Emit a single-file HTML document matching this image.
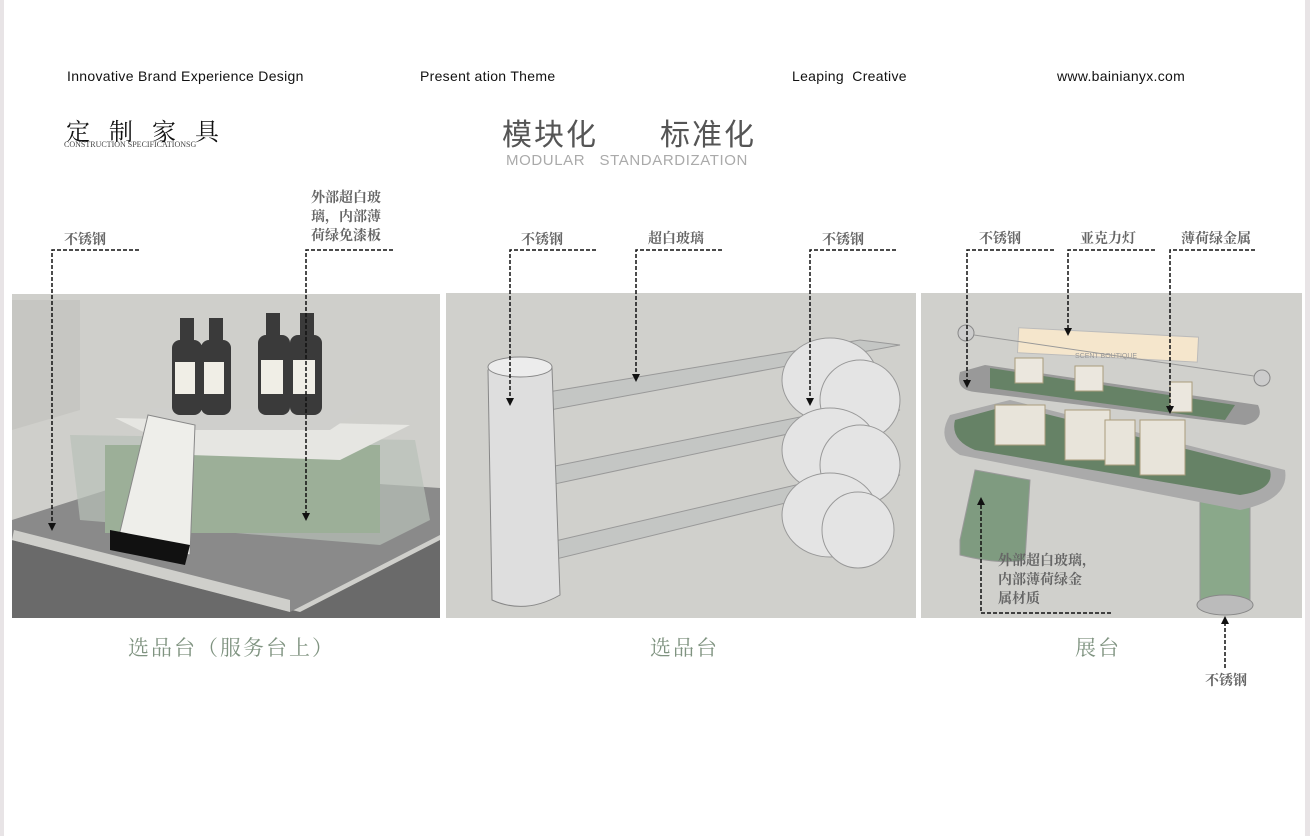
<!DOCTYPE html>
<html><head><meta charset="utf-8"><style>
body{margin:0;width:1310px;height:836px;background:#fff;overflow:hidden;position:relative;font-family:"Liberation Sans","Noto Sans CJK SC",sans-serif}
.t{position:absolute;white-space:nowrap}
.hd{font-size:14px;color:#111;top:68px;letter-spacing:0.3px}
.lb{font-family:"Liberation Serif","Noto Serif CJK SC",serif;font-weight:bold;font-size:14px;color:#666;line-height:19px}
.cap{font-family:"Liberation Serif","Noto Serif CJK SC",serif;font-size:21px;color:#7f9380;letter-spacing:2px;top:632px}
</style></head><body>
<div style="position:absolute;left:0;top:0;width:4px;height:836px;background:#e8e4e6"></div>
<div style="position:absolute;left:1305px;top:0;width:5px;height:836px;background:#e8e4e6"></div>
<div class="t hd" style="left:67px">Innovative Brand Experience Design</div>
<div class="t hd" style="left:420px">Present ation Theme</div>
<div class="t hd" style="left:792px">Leaping&nbsp; Creative</div>
<div class="t hd" style="left:1057px">www.bainianyx.com</div>
<div class="t" style="left:66px;top:112px;font-family:'Noto Serif CJK SC',serif;font-size:24px;letter-spacing:19px;color:#111">定制家具</div>
<div class="t" style="left:64px;top:140px;font-family:'Liberation Serif',serif;font-size:8px;color:#444">CONSTRUCTION SPECIFICATIONSG</div>
<div class="t" style="left:502px;top:110px;font-size:30px;color:#555;font-family:'Noto Sans CJK SC',sans-serif;letter-spacing:2px">模块化</div>
<div class="t" style="left:660px;top:110px;font-size:30px;color:#555;font-family:'Noto Sans CJK SC',sans-serif;letter-spacing:2px">标准化</div>
<div class="t" style="left:506px;top:152px;font-size:15px;color:#aaa;letter-spacing:0.6px">MODULAR&nbsp;&nbsp; STANDARDIZATION</div>

<svg width="1310" height="836" style="position:absolute;left:0;top:0">
<!-- panel 1 -->
<rect x="12" y="294" width="428" height="324" fill="#cfcfcb"/>
<polygon points="12,430 80,410 80,300 12,300" fill="#c6c6c2"/>
<polygon points="12,520 12,618 440,618 440,540 300,612 12,540" fill="#6a6a6a"/>
<polygon points="12,540 290,612 440,535 440,488 170,470 12,520" fill="#8a8a8a"/>
<polygon points="12,540 290,612 290,600 14,530" fill="#cfcfcb"/>
<polygon points="70,435 415,440 430,520 380,545 80,520" fill="#b8c0b8" opacity=".7"/>
<rect x="105" y="445" width="275" height="88" fill="#9caf98"/>
<polygon points="115,418 410,425 340,460 190,455" fill="#e6e6e2"/>
<polygon points="150,408 360,410 330,430 170,430" fill="#cfcfcc"/>
<g fill="#3a3a3a">
<rect x="172" y="340" width="30" height="75" rx="8"/><rect x="201" y="340" width="30" height="75" rx="8"/>
<rect x="258" y="335" width="32" height="80" rx="8"/><rect x="290" y="335" width="32" height="80" rx="8"/>
<rect x="180" y="318" width="14" height="24"/><rect x="209" y="318" width="14" height="24"/><rect x="266" y="313" width="14" height="24"/><rect x="300" y="313" width="14" height="24"/>
</g>
<g fill="#f0eee6"><rect x="175" y="362" width="20" height="32"/><rect x="204" y="362" width="20" height="32"/><rect x="261" y="360" width="22" height="34"/><rect x="293" y="360" width="22" height="34"/></g>
<polygon points="148,415 195,425 190,555 118,540" fill="#eeeeea" stroke="#888"/>
<polygon points="110,530 190,545 185,565 110,550" fill="#111"/>
<!-- panel 2 -->
<rect x="446" y="293" width="470" height="325" fill="#d0d0cc"/>
<polygon points="530,395 860,340 900,345 550,410" fill="#c4c6c4" stroke="#999"/>
<polygon points="535,470 860,405 900,410 550,485" fill="#c4c6c4" stroke="#999"/>
<polygon points="538,545 860,470 900,475 552,560" fill="#c4c6c4" stroke="#999"/>
<g fill="#e4e4e4" stroke="#999">
<ellipse cx="830" cy="380" rx="48" ry="42"/><ellipse cx="860" cy="400" rx="40" ry="40"/>
<ellipse cx="830" cy="450" rx="48" ry="42"/><ellipse cx="860" cy="465" rx="40" ry="40"/>
<ellipse cx="830" cy="515" rx="48" ry="42"/><ellipse cx="858" cy="530" rx="36" ry="38"/>
</g>
<path d="M488,370 Q515,350 552,368 L560,595 Q525,615 492,600 Z" fill="#dedede" stroke="#888"/>
<ellipse cx="520" cy="367" rx="32" ry="10" fill="#ececec" stroke="#888"/>
<!-- panel 3 -->
<rect x="921" y="293" width="381" height="325" fill="#d0d0cc"/>
<path d="M960,540 L975,470 L1030,480 L1025,560 Q1000,565 960,555 Z" fill="#7f9b80" stroke="#999"/>
<rect x="1200" y="500" width="50" height="105" fill="#8aa88a" stroke="#999"/>
<ellipse cx="1225" cy="605" rx="28" ry="10" fill="#bbb" stroke="#888"/>
<path d="M950,415 Q935,440 960,455 L1240,510 Q1290,500 1285,470 L1010,400 Z" fill="#aaa"/>
<path d="M955,420 Q950,440 975,450 L1240,495 Q1275,490 1270,470 L1010,405 Z" fill="#668266"/>
<g fill="#e8e4da" stroke="#aa9d7c"><rect x="995" y="405" width="50" height="40"/><rect x="1065" y="410" width="45" height="50"/><rect x="1140" y="420" width="45" height="55"/><rect x="1105" y="420" width="30" height="45"/></g>
<path d="M960,372 Q955,390 975,392 L1245,425 Q1265,420 1258,405 L985,365 Z" fill="#999"/>
<path d="M990,368 L1235,405 L1225,420 L990,388 Z" fill="#668266"/>
<rect x="1018" y="332" width="180" height="25" fill="#f5e6cc" stroke="#bbb" transform="rotate(3 1100 345)"/>
<text x="1075" y="358" font-size="7" fill="#999" font-family="Liberation Sans">SCENT BOUTIQUE</text>
<g fill="#ebe7de" stroke="#aa9d7c"><rect x="1015" y="358" width="28" height="25"/><rect x="1075" y="366" width="28" height="25"/><rect x="1170" y="382" width="22" height="30"/></g>
<circle cx="966" cy="333" r="8" fill="#ccc" stroke="#888"/><circle cx="1262" cy="378" r="8" fill="#ccc" stroke="#888"/>
<line x1="974" y1="335" x2="1254" y2="376" stroke="#999"/>
<!-- dashed leaders -->
<g stroke="#111" stroke-width="1.5" stroke-dasharray="4,2" fill="none">
<path d="M139,250 H52 V525"/>
<path d="M393,250 H306 V515"/>
<path d="M596,250 H510 V400"/>
<path d="M722,250 H636 V376"/>
<path d="M896,250 H810 V400"/>
<path d="M1054,250 H967 V382"/>
<path d="M1155,250 H1068 V330"/>
<path d="M1255,250 H1170 V408"/>
<path d="M1111,613 H981 V503"/>
<path d="M1225,668 V622"/>
</g>
<g fill="#111">
<polygon points="48,523 56,523 52,531"/><polygon points="302,513 310,513 306,521"/>
<polygon points="506,398 514,398 510,406"/><polygon points="632,374 640,374 636,382"/>
<polygon points="806,398 814,398 810,406"/><polygon points="963,380 971,380 967,388"/>
<polygon points="1064,328 1072,328 1068,336"/><polygon points="1166,406 1174,406 1170,414"/>
<polygon points="977,505 985,505 981,497"/><polygon points="1221,624 1229,624 1225,616"/>
</g>
</svg>

<div class="t lb" style="left:64px;top:231px">不锈钢</div>
<div class="t lb" style="left:311px;top:189px">外部超白玻<br>璃，内部薄<br>荷绿免漆板</div>
<div class="t lb" style="left:521px;top:231px">不锈钢</div>
<div class="t lb" style="left:648px;top:230px">超白玻璃</div>
<div class="t lb" style="left:822px;top:231px">不锈钢</div>
<div class="t lb" style="left:979px;top:230px">不锈钢</div>
<div class="t lb" style="left:1080px;top:230px">亚克力灯</div>
<div class="t lb" style="left:1181px;top:230px">薄荷绿金属</div>
<div class="t lb" style="left:998px;top:552px">外部超白玻璃，<br>内部薄荷绿金<br>属材质</div>
<div class="t lb" style="left:1205px;top:672px">不锈钢</div>
<div class="t cap" style="left:128px">选品台（服务台上）</div>
<div class="t cap" style="left:650px">选品台</div>
<div class="t cap" style="left:1075px">展台</div>
</body></html>
